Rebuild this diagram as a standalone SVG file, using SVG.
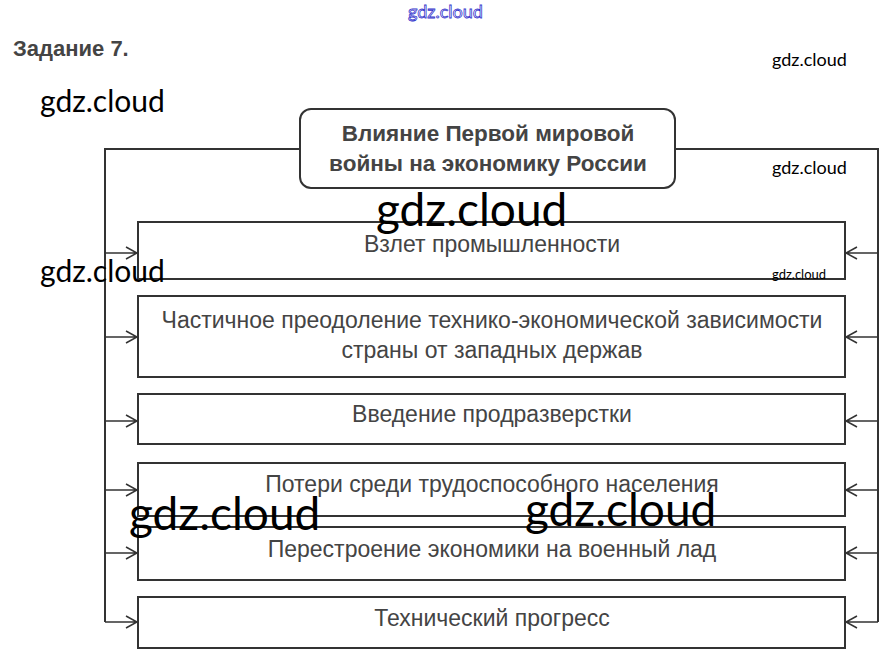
<svg xmlns="http://www.w3.org/2000/svg" width="891" height="662" viewBox="0 0 891 662">
<style>
.box{fill:#fff;stroke:#333;stroke-width:2}
.conn{fill:none;stroke:#333;stroke-width:2}
.arr{fill:none;stroke:#333;stroke-width:1.5}
.t{font-family:"Liberation Sans",Arial,sans-serif;font-size:23px;fill:#444;text-anchor:middle}
.tb{font-family:"Liberation Sans",Arial,sans-serif;font-size:22.5px;font-weight:bold;fill:#444;text-anchor:middle}
.wm{font-family:Lato,"Open Sans",sans-serif;fill:#000}
</style>
<rect width="891" height="662" fill="#fff"/>
<text x="13" y="56" font-family="'Liberation Sans',Arial,sans-serif" font-size="22" font-weight="bold" fill="#444">Задание 7.</text>
<g id="connectors">
<path class="conn" d="M300 149H105V622M675 149H878V622"/>
<path class="arr" d="M105 253H137M126 247L137 253L126 259"/>
<path class="arr" d="M105 337H137M126 331L137 337L126 343"/>
<path class="arr" d="M105 421H137M126 415L137 421L126 427"/>
<path class="arr" d="M105 490H137M126 484L137 490L126 496"/>
<path class="arr" d="M105 553H137M126 547L137 553L126 559"/>
<path class="arr" d="M105 622H137M126 616L137 622L126 628"/>
<path class="arr" d="M878 253H846M857 247L846 253L857 259"/>
<path class="arr" d="M878 337H846M857 331L846 337L857 343"/>
<path class="arr" d="M878 421H846M857 415L846 421L857 427"/>
<path class="arr" d="M878 490H846M857 484L846 490L857 496"/>
<path class="arr" d="M878 553H846M857 547L846 553L857 559"/>
<path class="arr" d="M878 622H846M857 616L846 622L857 628"/>
</g>
<g id="title">
<rect class="box" x="300" y="109" width="375" height="79" rx="11"/>
<text class="tb" x="488" y="141">Влияние Первой мировой</text>
<text class="tb" x="488" y="171">войны на экономику России</text>
</g>
<g id="n1">
<rect class="box" x="138" y="222" width="707" height="57"/>
<text class="t" x="492" y="252">Взлет промышленности</text>
</g>
<g id="n2">
<rect class="box" x="138" y="296" width="707" height="81"/>
<text class="t" x="492" y="328">Частичное преодоление технико-экономической зависимости</text>
<text class="t" x="492" y="358">страны от западных держав</text>
</g>
<g id="n3">
<rect class="box" x="138" y="394" width="707" height="50"/>
<text class="t" x="492" y="422">Введение продразверстки</text>
</g>
<g id="n4">
<rect class="box" x="138" y="463" width="707" height="53"/>
<text class="t" x="492" y="492">Потери среди трудоспособного населения</text>
</g>
<g id="n5">
<rect class="box" x="138" y="527" width="707" height="53"/>
<text class="t" x="492" y="557">Перестроение экономики на военный лад</text>
</g>
<g id="n6">
<rect class="box" x="138" y="597" width="707" height="51"/>
<text class="t" x="492" y="626">Технический прогресс</text>
</g>
<g id="watermarks">
<text x="408" y="18" font-family="Lato,sans-serif" font-size="18" fill="#fff" stroke="#33c" stroke-width="0.8">gdz.cloud</text>
<text class="wm" x="772" y="66" font-size="18">gdz.cloud</text>
<text class="wm" x="40" y="112" font-size="30">gdz.cloud</text>
<text class="wm" x="772" y="174" font-size="18">gdz.cloud</text>
<text class="wm" x="376" y="226" font-size="46">gdz.cloud</text>
<text class="wm" x="40" y="282" font-size="30">gdz.cloud</text>
<text class="wm" x="772" y="279" font-size="13">gdz.cloud</text>
<text class="wm" x="129" y="530" font-size="46">gdz.cloud</text>
<text class="wm" x="525" y="526" font-size="46">gdz.cloud</text>
</g>
</svg>
